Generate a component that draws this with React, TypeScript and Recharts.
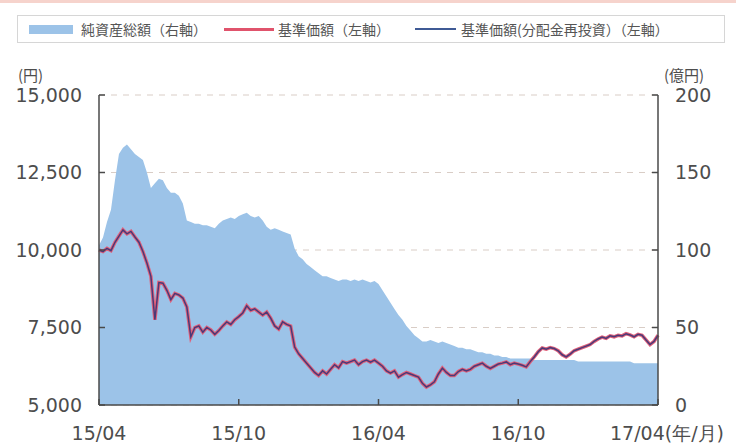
import { ComposedChart, Area, Line, XAxis, YAxis, CartesianGrid } from 'recharts';

// 基準価額 (円), roughly every 5 days from 15/04 to 17/04
const price = [
  10000, 9950, 10050, 9980, 10250, 10450, 10650, 10520, 10600, 10420,
  10250, 9950, 9580, 9150, 7750, 8950, 8930, 8700, 8400, 8600,
  8550, 8450, 8160, 7200, 7500, 7550, 7350, 7500, 7420, 7280,
  7400, 7550, 7680, 7600, 7750, 7850, 7970, 8200, 8050, 8100,
  8000, 7900, 8000, 7800, 7550, 7450, 7680, 7600, 7550, 6870,
  6650, 6500, 6350, 6200, 6050, 5950, 6100, 6000, 6150, 6300,
  6200, 6400, 6350, 6400, 6450, 6300, 6400, 6450, 6380, 6450,
  6350, 6250, 6100, 6030, 6100, 5900, 5980, 6050, 6000, 5950,
  5900, 5700, 5580, 5650, 5750, 6000, 6190, 6050, 5950, 5950,
  6080, 6150, 6100, 6150, 6250, 6300, 6350, 6250, 6180, 6250,
  6320, 6350, 6390, 6300, 6350, 6320, 6280, 6230, 6400, 6550,
  6720, 6840, 6800, 6850, 6820, 6750, 6620, 6550, 6640, 6750,
  6800, 6850, 6900, 6950, 7050, 7130, 7190, 7150, 7230, 7200,
  7250, 7230, 7300, 7260, 7200, 7280, 7250, 7100, 6950, 7050,
  7250,
];

// 基準価額(分配金再投資) — no distributions, so it sits on top of the price line
const reinvestPrice = [...price];

// 純資産総額 (億円)
const netAssets = [
  103, 108, 118, 126, 145, 162, 166, 168, 165, 162,
  160, 158, 150, 140, 143, 146, 145, 140, 137, 137,
  135, 130, 119, 118, 117, 117, 116, 116, 115, 114,
  117, 119, 120, 121, 120, 122, 123, 124, 122, 121,
  122, 119, 115, 113, 114, 113, 112, 111, 110, 101,
  96, 94, 91, 89, 87, 85, 83, 83, 82, 81,
  80, 81, 81, 80, 81, 80, 81, 80, 79, 80,
  78, 74, 70, 66, 62, 58, 55, 51, 48, 45,
  43, 41, 41, 42, 41, 40, 41, 40, 39, 38,
  37, 37, 36, 36, 35, 34, 34, 33, 33, 32,
  32, 31, 31, 30, 30, 30, 30, 30, 30, 29,
  29, 29, 29, 29, 29, 29, 29, 29, 29, 29,
  28, 28, 28, 28, 28, 28, 28, 28, 28, 28,
  28, 28, 28, 28, 27, 27, 27, 27, 27, 27,
  27,
];

const xTickIndex = [0, 35, 70, 105, 140];
const xTickLabels = ['15/04', '15/10', '16/04', '16/10', '17/04(年/月)'];
const leftTicks = [5000, 7500, 10000, 12500, 15000];
const rightTicks = [0, 50, 100, 150, 200];

const data = price.map((p, i) => ({
  i,
  price: p,
  reinvest: reinvestPrice[i],
  netAssets: netAssets[i],
}));

const AXIS = '#4a4a4a';
const TEXT = '#4d4d4d';
const NUM_FONT = '"DejaVu Sans", Verdana, sans-serif';
const JP_FONT = '"Noto Sans CJK JP", "Noto Sans", sans-serif';

function LeftTick({ x, y, payload }: any) {
  return (
    <g>
      <line x1={x + 17} x2={x + 23} y1={y} y2={y} stroke={AXIS} strokeWidth={1.5} />
      <text x={x} y={y} dy="0.36em" textAnchor="end" fill={TEXT} fontSize={19} fontFamily={NUM_FONT}>
        {payload.value.toLocaleString('en-US')}
      </text>
    </g>
  );
}

function RightTick({ x, y, payload }: any) {
  return (
    <g>
      <line x1={x - 17} x2={x - 23} y1={y} y2={y} stroke={AXIS} strokeWidth={1.5} />
      <text x={x} y={y} dy="0.36em" textAnchor="start" fill={TEXT} fontSize={19} fontFamily={NUM_FONT}>
        {payload.value}
      </text>
    </g>
  );
}

function BottomTick({ x, y, payload, index }: any) {
  const label = xTickLabels[xTickIndex.indexOf(payload.value)] ?? '';
  const last = index === xTickIndex.length - 1;
  return (
    <g>
      <line x1={x} x2={x} y1={y} y2={y - 6} stroke={AXIS} strokeWidth={1.5} />
      <text
        x={last ? x - 48 : x}
        y={y + 35}
        textAnchor={last ? 'start' : 'middle'}
        fill={TEXT}
        fontSize={19}
        fontFamily={NUM_FONT}
      >
        {label}
      </text>
    </g>
  );
}

function LegendBox() {
  const item = { display: 'flex', alignItems: 'center', whiteSpace: 'nowrap' as const };
  return (
    <div
      style={{
        position: 'absolute',
        left: 17,
        top: 15,
        width: 708,
        height: 28,
        border: '1px solid #d6d6d6',
        boxSizing: 'border-box',
        display: 'flex',
        alignItems: 'center',
        fontFamily: JP_FONT,
        fontSize: 14,
        color: '#555',
      }}
    >
      <div style={{ ...item, marginLeft: 11 }}>
        <span style={{ display: 'inline-block', width: 44, height: 9, background: '#9cc3e8', marginRight: 8 }} />
        純資産総額（右軸）
      </div>
      <div style={{ ...item, marginLeft: 17 }}>
        <span style={{ display: 'inline-block', width: 50, height: 3, background: '#e0536c', marginRight: 4 }} />
        基準価額（左軸）
      </div>
      <div style={{ ...item, marginLeft: 25 }}>
        <span style={{ display: 'inline-block', width: 41, height: 2, background: '#3f5a95', marginRight: 5 }} />
        基準価額(分配金再投資）（左軸）
      </div>
    </div>
  );
}

export default function App() {
  return (
    <div style={{ position: 'absolute', left: 0, top: 0, width: 736, height: 444, background: '#fff' }}>
      <div style={{ position: 'absolute', left: 0, top: 0, width: 736, height: 3, background: '#f6d3cc' }} />
      <LegendBox />
      <div style={{ position: 'absolute', left: 18, top: 64, fontFamily: JP_FONT, fontSize: 15, color: TEXT }}>(円)</div>
      <div style={{ position: 'absolute', left: 664, top: 64, fontFamily: JP_FONT, fontSize: 15, color: TEXT }}>(億円)</div>
      <ComposedChart width={736} height={444} data={data} margin={{ top: 95, right: 0, bottom: 0, left: 0 }}>
        <CartesianGrid
          yAxisId="left"
          vertical={false}
          horizontal
          stroke="#d9cdc6"
          strokeDasharray="6 6"
        />
        <XAxis
          dataKey="i"
          type="number"
          domain={[0, 140]}
          ticks={xTickIndex}
          interval={0}
          height={39}
          tickSize={0}
          tickMargin={0}
          axisLine={{ stroke: AXIS, strokeWidth: 1.5 }}
          tickLine={false}
          tick={<BottomTick />}
        />
        <YAxis
          yAxisId="left"
          orientation="left"
          width={99}
          domain={[5000, 15000]}
          ticks={leftTicks}
          interval={0}
          tickSize={0}
          tickMargin={17}
          axisLine={{ stroke: AXIS, strokeWidth: 1.5 }}
          tickLine={false}
          tick={<LeftTick />}
        />
        <YAxis
          yAxisId="right"
          orientation="right"
          width={78}
          domain={[0, 200]}
          ticks={rightTicks}
          interval={0}
          tickSize={0}
          tickMargin={17}
          axisLine={{ stroke: AXIS, strokeWidth: 1.5 }}
          tickLine={false}
          tick={<RightTick />}
        />
        <Area
          yAxisId="right"
          dataKey="netAssets"
          type="linear"
          stroke="none"
          fill="#9cc3e8"
          fillOpacity={1}
          isAnimationActive={false}
        />
        <Line
          yAxisId="left"
          dataKey="price"
          type="linear"
          stroke="#e0607a"
          strokeWidth={3.5}
          dot={false}
          isAnimationActive={false}
        />
        <Line
          yAxisId="left"
          dataKey="reinvest"
          type="linear"
          stroke="#4a3a78"
          strokeWidth={1.5}
          dot={false}
          isAnimationActive={false}
        />
      </ComposedChart>
    </div>
  );
}
